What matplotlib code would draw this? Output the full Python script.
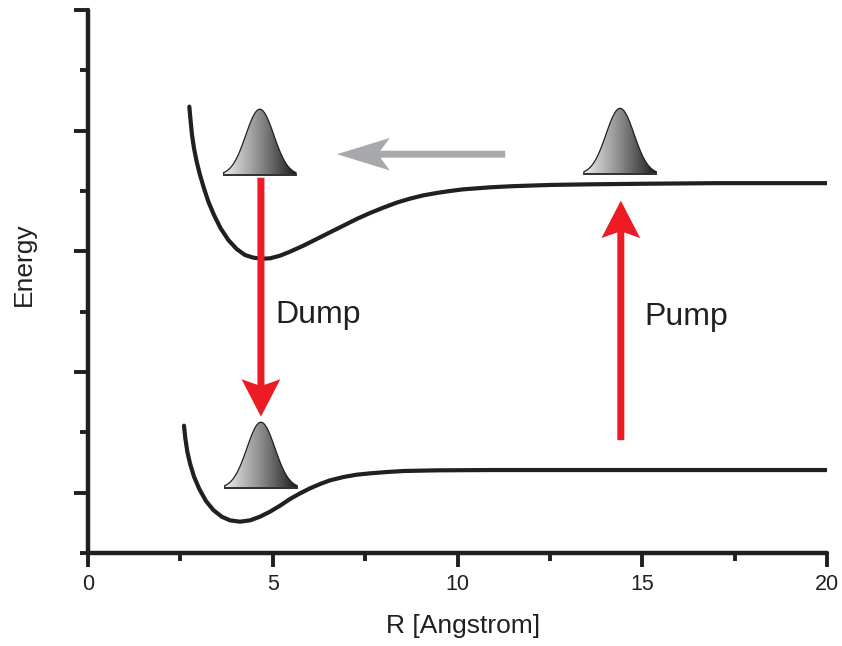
import numpy as np
import matplotlib
matplotlib.use("Agg")
import matplotlib.pyplot as plt
from matplotlib.patches import Polygon, FancyArrow
from matplotlib.colors import LinearSegmentedColormap
from matplotlib.ticker import MultipleLocator

plt.rcParams['font.family'] = ['Liberation Sans', 'DejaVu Sans']

# ---- data ----
upper_R = [2.742, 2.779, 2.815, 2.869, 2.941, 3.031, 3.139, 3.257, 3.410, 3.590, 3.798,
           4.024, 4.249, 4.475, 4.700, 4.926, 5.196, 5.467, 5.828, 6.189, 6.549, 6.910,
           7.271, 7.632, 7.993, 8.354, 8.714, 9.075, 9.436, 9.797, 10.158, 10.519, 10.880,
           11.5, 12.5, 13.5, 15.0, 17.0, 20.0]
upper_E = [6.398, 6.149, 5.928, 5.707, 5.486, 5.265, 5.044, 4.823, 4.602, 4.381, 4.188,
           4.038, 3.939, 3.895, 3.878, 3.884, 3.928, 3.994, 4.094, 4.204, 4.315, 4.425,
           4.536, 4.635, 4.724, 4.807, 4.873, 4.928, 4.967, 5.000, 5.028, 5.044, 5.061,
           5.08, 5.10, 5.11, 5.12, 5.13, 5.13]

lower_R = [2.598, 2.634, 2.688, 2.760, 2.869, 3.013, 3.194, 3.392, 3.618, 3.843, 4.114,
           4.384, 4.655, 4.926, 5.196, 5.467, 5.737, 6.008, 6.279, 6.549, 6.910, 7.271,
           7.632, 8.083, 8.534, 9.436, 10.880, 14.0, 20.0]
lower_E = [1.110, 0.900, 0.679, 0.486, 0.265, 0.060, -0.139, -0.288, -0.398, -0.459, -0.481,
           -0.459, -0.398, -0.315, -0.216, -0.105, -0.012, 0.072, 0.143, 0.204, 0.259, 0.298,
           0.320, 0.342, 0.359, 0.370, 0.375, 0.375, 0.375]

packet_R = [4.65, 14.40, 4.68]
packet_E = [5.265, 5.28, 0.077]

dump_start = (4.68, 5.22)
dump_end = (4.68, 1.26)
pump_start = (14.42, 0.87)
pump_end = (14.42, 4.84)
shift_start = (11.29, 5.61)
shift_end = (6.74, 5.61)

x_ticks = [0, 5, 10, 15, 20]
labels = ["Dump", "Pump"]
label_R = [5.06, 15.07]
label_E = [2.81, 2.78]

# ---- figure ----
W, H = 842, 646
fig = plt.figure(figsize=(W / 100, H / 100), dpi=100)
ax = fig.add_axes([88 / W, 1 - 553 / H, (827 - 88) / W, (553 - 10) / H])

dark = '#231f20'
red = '#ed1c24'
grey = '#a7a9ac'

ax.plot(upper_R, upper_E, color=dark, lw=3.0, solid_capstyle='round', solid_joinstyle='round', zorder=3)
ax.plot(lower_R, lower_E, color=dark, lw=3.0, solid_capstyle='round', solid_joinstyle='round', zorder=3)

# wave packets with gradient fill
cmap = LinearSegmentedColormap.from_list('pk', ['#ececec', '#8a8a8a', '#1a1a1a'])
grad = np.linspace(0, 1, 256).reshape(1, -1)
hw, h, s = 0.98, 1.09, 0.38
for c, b in zip(packet_R, packet_E):
    xs = np.linspace(c - hw, c + hw, 200)
    ys = b + h * np.exp(-0.5 * ((xs - c) / s) ** 2)
    verts = np.column_stack([np.r_[xs, xs[-1], xs[0]], np.r_[ys, b, b]])
    poly = Polygon(verts, closed=True, fc='none', ec=dark, lw=0.9, zorder=5)
    ax.add_patch(poly)
    im = ax.imshow(grad, extent=[c - hw, c + hw, b, b + h], cmap=cmap,
                   aspect='auto', zorder=4, interpolation='bilinear')
    im.set_clip_path(poly)
    ax.plot([c - hw, c + hw], [b, b], color='#333333', lw=1.4, zorder=5)

# arrows
def varrow(start, end, color):
    ax.add_patch(FancyArrow(start[0], start[1], end[0] - start[0], end[1] - start[1],
                            width=0.19, head_width=1.05, head_length=0.62,
                            length_includes_head=True, overhang=0.15,
                            color=color, lw=0, zorder=6))

varrow(dump_start, dump_end, red)
varrow(pump_start, pump_end, red)
ax.add_patch(FancyArrow(shift_start[0], shift_start[1], shift_end[0] - shift_start[0], 0,
                        width=0.115, head_width=0.54, head_length=1.43,
                        length_includes_head=True, overhang=0.18,
                        color=grey, lw=0, zorder=6))

for t, r, e in zip(labels, label_R, label_E):
    ax.text(r, e, t, fontsize=23, color=dark, ha='left', va='baseline')

# axes styling
ax.set_xlim(0, 20)
ax.set_ylim(-1, 8)
ax.set_xticks(x_ticks)
ax.xaxis.set_minor_locator(MultipleLocator(2.5))
ax.set_yticks([0, 2, 4, 6, 8])
ax.set_yticks([-1, 1, 3, 5, 7], minor=True)
ax.set_yticklabels([])
for sp in ['top', 'right']:
    ax.spines[sp].set_visible(False)
for sp in ['left', 'bottom']:
    ax.spines[sp].set_linewidth(3.2)
    ax.spines[sp].set_color(dark)
    ax.spines[sp].set_capstyle('round')
ax.tick_params(which='major', length=10, width=2.8, color=dark, direction='out',
               labelsize=15.5, labelcolor=dark, pad=5)
ax.tick_params(which='minor', length=6, width=2.8, color=dark, direction='out')
for t in ax.xaxis.get_ticklines(minor=False) + ax.xaxis.get_ticklines(minor=True) + \
        ax.yaxis.get_ticklines(minor=False) + ax.yaxis.get_ticklines(minor=True):
    t.set_solid_capstyle('round')

ax.set_xlabel('R [Angstrom]', fontsize=19, color=dark)
ax.xaxis.set_label_coords((463 - 88) / 739, -0.112)
fig.text(24 / W, 1 - 264 / H, 'Energy', fontsize=19, color=dark, rotation=90,
         ha='center', va='center')

fig.savefig('out.png', dpi=100)
